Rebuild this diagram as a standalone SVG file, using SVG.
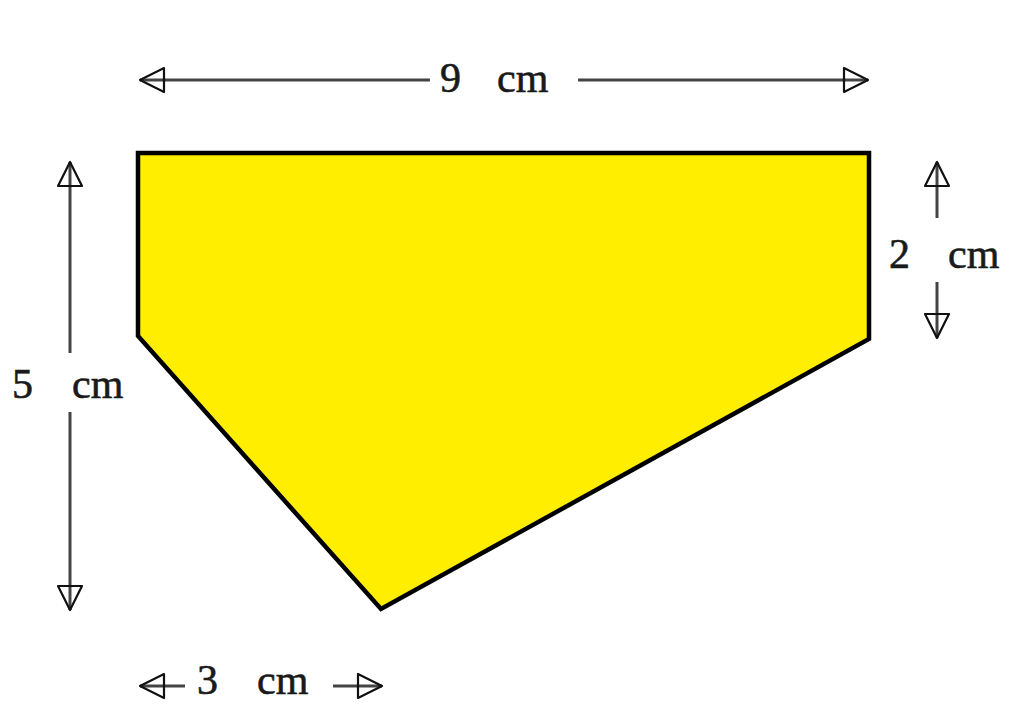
<svg xmlns="http://www.w3.org/2000/svg" width="1011" height="704" viewBox="0 0 1011 704">
  <style>
    .shape { fill: #FFEE00; stroke: #000; stroke-width: 4.5; stroke-linejoin: miter; }
    .dim { stroke: #444; stroke-width: 3; fill: none; marker-start: url(#ah); }
    .dimend { marker-end: url(#ah); marker-start: none; }
    .lbl { font-family: "Liberation Serif", "Times New Roman", serif; font-size: 42px; fill: #1a1a1a; stroke: #1a1a1a; stroke-width: 0.6; }
  </style>
  <defs>
    <marker id="ah" markerUnits="userSpaceOnUse" viewBox="-28 -16 32 32" refX="0" refY="0" markerWidth="32" markerHeight="32" orient="auto-start-reverse">
      <path d="M0,0 L-24,-12 L-24,12 Z" fill="none" stroke="#111" stroke-width="2.2" stroke-linejoin="round"/>
    </marker>
  </defs>
  <rect width="1011" height="704" fill="#fff"/>
  <g id="pentagon">
    <polygon class="shape" points="138,153 869,153 869,339 381,609 138,336"/>
  </g>
  <g id="connectors">
    <line class="dim" x1="140" y1="80" x2="430" y2="80"/>
    <line class="dim dimend" x1="578" y1="80" x2="868" y2="80"/>
    <line class="dim" x1="70" y1="162" x2="70" y2="353"/>
    <line class="dim dimend" x1="70" y1="412" x2="70" y2="610"/>
    <line class="dim" x1="937" y1="162" x2="937" y2="218"/>
    <line class="dim dimend" x1="937" y1="282" x2="937" y2="338"/>
    <line class="dim" x1="140" y1="686" x2="185" y2="686"/>
    <line class="dim dimend" x1="333" y1="686" x2="382" y2="686"/>
  </g>
  <g id="label-9cm">
    <text class="lbl" y="92"><tspan x="440">9</tspan><tspan x="497">cm</tspan></text>
  </g>
  <g id="label-5cm">
    <text class="lbl" y="398"><tspan x="12">5</tspan><tspan x="72">cm</tspan></text>
  </g>
  <g id="label-2cm">
    <text class="lbl" y="268"><tspan x="889">2</tspan><tspan x="948">cm</tspan></text>
  </g>
  <g id="label-3cm">
    <text class="lbl" y="694"><tspan x="197">3</tspan><tspan x="257">cm</tspan></text>
  </g>
</svg>
